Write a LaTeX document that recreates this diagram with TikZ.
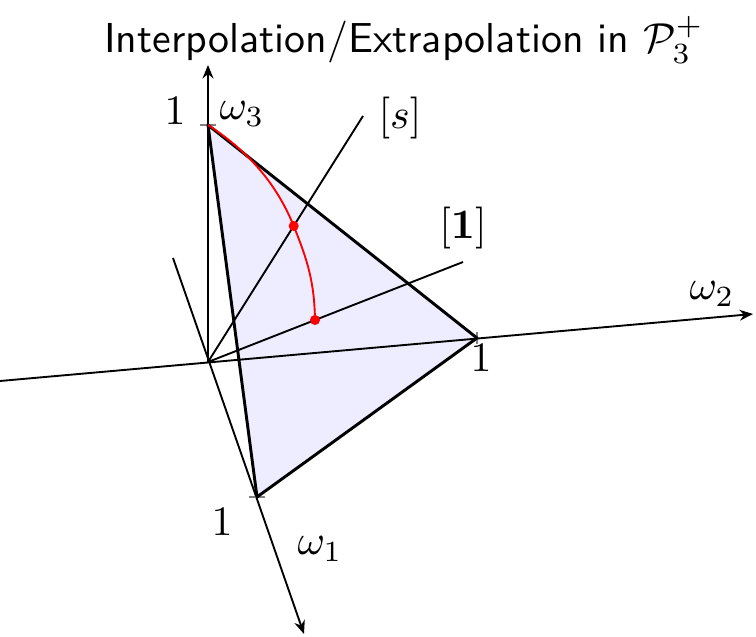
\documentclass[tikz,border=0pt]{standalone}
\usepackage{amsmath}
\usetikzlibrary{arrows.meta}
\begin{document}
\begin{tikzpicture}[x=0.2387pt,y=-0.2387pt,
  axis/.style={line width=0.45pt,-{Stealth[length=3.2pt,width=2.6pt]}},
  plainaxis/.style={line width=0.45pt},
  edge/.style={line width=0.7pt},
  tickmark/.style={gray,line width=0.3pt},
  lab/.style={inner sep=0pt},
  dot/.style={circle,fill=red,inner sep=0pt,minimum size=2.4pt}]
\useasboundingbox (0,0) rectangle (756,637);
% coordinates
\coordinate (O) at (208,362);
\coordinate (E3) at (208,125);
\coordinate (E2) at (477,338);
\coordinate (E1) at (257,497);
\coordinate (A3) at (208,65);
\coordinate (A2) at (753,314);
\coordinate (A1) at (304,634);
\coordinate (N1) at (173,258);
\coordinate (N2) at (0,381);
\coordinate (S) at (363,116);
\coordinate (U) at (463,262);
% face
\fill[blue!7] (E1) -- (E2) -- (E3) -- cycle;
% axes
\draw[axis] (O) -- (A3);
\draw[axis] (N2) -- (A2);
\draw[axis] (N1) -- (A1);
\draw[plainaxis] (O) -- (S);
\draw[plainaxis] (O) -- (U);
% ticks
\draw[tickmark] ([xshift=-8*0.2387pt]E3) -- ([xshift=8*0.2387pt]E3);
\draw[tickmark] ([yshift=6*0.2387pt]E2) -- ([yshift=-6*0.2387pt]E2);
\draw[tickmark] ([xshift=-8*0.2387pt]E1) -- ([xshift=8*0.2387pt]E1);
% edges
\draw[edge,line join=round] (E1) -- (E2) -- (E3) -- cycle;
% red arc
\node[dot] (P1) at (293.7,226) {};
\node[dot] (P2) at (315,320) {};
\draw[red,line width=0.45pt] (E3) to[out=-33,in=112,looseness=0.9] (P1.center) to[out=-68,in=91] (P2.center);
% labels
\node[lab] (t) at (404,40) {\textsf{Interpolation/Extrapolation in} $\mathcal{P}_3^+$};
\node[lab] (l3) at (175,111) {$1$};
\node[lab] (w3) at (242,114) {$\omega_3$};
\node[lab] (ls) at (400,118) {$[s]$};
\node[lab] (l1) at (463,228) {$[\mathbf{1}]$};
\node[lab] (w2) at (712,294) {$\omega_2$};
\node[lab] (l2) at (481,358) {$1$};
\node[lab] (l1b) at (222,522) {$1$};
\node[lab] (w1) at (320,549) {$\omega_1$};
\end{tikzpicture}
\end{document}
